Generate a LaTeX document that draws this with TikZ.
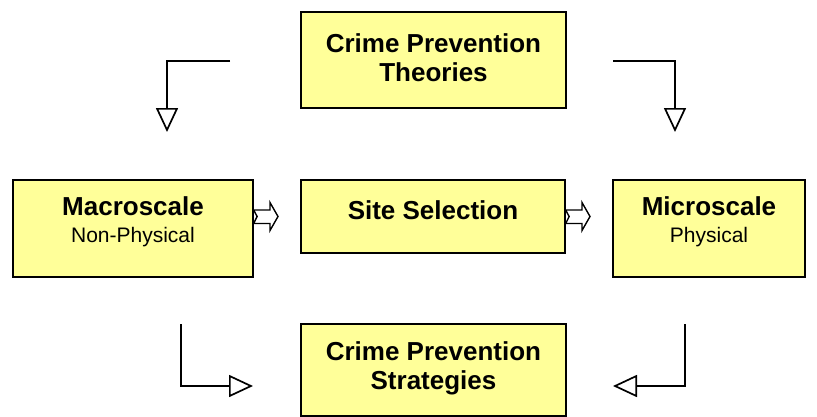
\documentclass[tikz,border=0pt]{standalone}
\usepackage{fontspec}
\setmainfont{Liberation Sans}
\usetikzlibrary{arrows.meta}
\definecolor{boxfill}{RGB}{255,255,153}
\tikzset{
  box/.style={draw=black, line width=1.3pt, fill=boxfill, inner sep=0pt},
  title/.style={inner sep=0pt, align=center,
    font=\fontsize{26}{29}\selectfont\bfseries},
  elbow/.style={line width=2.4pt, line join=miter,
    -{Triangle[open, length=24pt, width=22pt, line width=1.7pt]}},
  blockarrow/.style={draw=black, line width=1.4pt, fill=white, line join=miter}
}
\newcommand{\subline}[1]{{\fontsize{21}{24}\selectfont\mdseries #1}}
\begin{document}
\begin{tikzpicture}[x=1pt, y=-1pt]
  \useasboundingbox (0,0) rectangle (817,416);

  % boxes
  \node[box, minimum width=265pt, minimum height=96pt] (theories) at (433.5,60) {};
  \node[box, minimum width=240pt, minimum height=97pt] (macro) at (133,228.5) {};
  \node[box, minimum width=264pt, minimum height=73pt] (site) at (433,216.5) {};
  \node[box, minimum width=192pt, minimum height=97pt] (micro) at (709,228.5) {};
  \node[box, minimum width=265pt, minimum height=92pt] (strategies) at (433.5,370) {};

  % box texts (yshift is in page units: positive moves up)
  \node[title] (theoriesText) at ([yshift=2pt]theories.center)
    {Crime Prevention\\Theories};
  \node[title] (macroText) at ([yshift=7pt]macro.center)
    {Macroscale\\[-2pt]\subline{Non-Physical}};
  \node[title] (siteText) at ([yshift=6pt]site.center) {Site Selection};
  \node[title] (microText) at ([yshift=7pt]micro.center)
    {Microscale\\[-2pt]\subline{Physical}};
  \node[title] (strategiesText) at ([yshift=2pt]strategies.center)
    {Crime Prevention\\Strategies};

  % elbow connectors
  \coordinate (tlstart) at (230,61);
  \coordinate (tlend)   at (167,132);
  \coordinate (trstart) at (613,61);
  \coordinate (trend)   at (675,132);
  \coordinate (blstart) at (181,324);
  \coordinate (blend)   at (253,386);
  \coordinate (brstart) at (685,324);
  \coordinate (brend)   at (613,386);
  \draw[elbow] (tlstart) -| (tlend);
  \draw[elbow] (trstart) -| (trend);
  \draw[elbow] (blstart) |- (blend);
  \draw[elbow] (brstart) |- (brend);

  % block arrows between the middle row boxes
  \draw[blockarrow] (macro.east |- 0,210) -- (270,210) -- (270,202.5) -- (278,216.5)
    -- (270,230.5) -- (270,223.5) -- (macro.east |- 0,223.5)
    -- ([xshift=3.5pt]macro.east |- 0,216.5) -- cycle;
  \draw[blockarrow] (site.east |- 0,210) -- (582,210) -- (582,202.5) -- (590,216.5)
    -- (582,230.5) -- (582,223.5) -- (site.east |- 0,223.5)
    -- ([xshift=3.5pt]site.east |- 0,216.5) -- cycle;
\end{tikzpicture}
\end{document}
